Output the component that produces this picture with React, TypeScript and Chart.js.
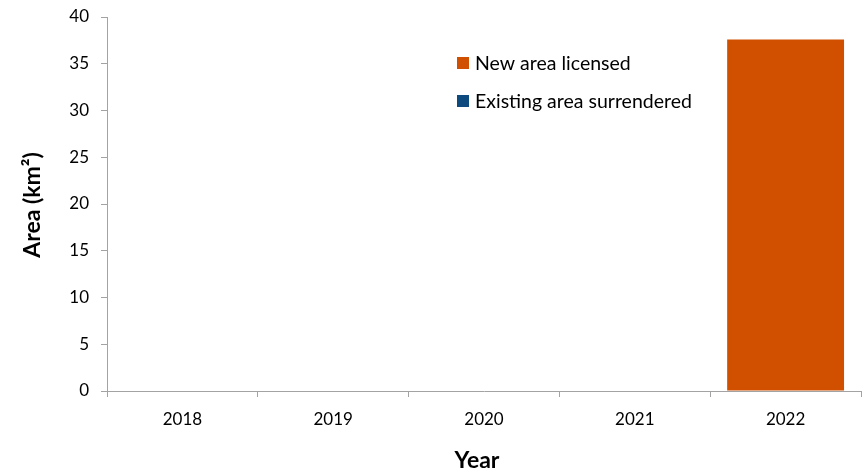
import React, { useEffect, useRef } from "react";
import { Chart, registerables } from "chart.js";

Chart.register(...registerables);

const years = ["2018", "2019", "2020", "2021", "2022"];
const newAreaLicensed = [0, 0, 0, 0, 37.6];
const existingAreaSurrendered = [0, 0, 0, 0, 0];
const yTicksMax = 40;
const yTicksStep = 5;
const xTitle = "Year";
const yTitle = "Area (km²)";

const FONT = "Lato, 'Open Sans', sans-serif";
const AXIS_COLOR = "#a3a3a3";

const overlayPlugin = {
  id: "overlayText",
  afterDraw(chart: any) {
    const ctx = chart.ctx;
    const ca = chart.chartArea;
    // legend
    const x0 = ca.left + 350;
    const y0 = ca.top + 46;
    const gap = 38;
    ctx.save();
    ctx.font = `19.5px ${FONT}`;
    ctx.textBaseline = "middle";
    ctx.textAlign = "left";
    chart.data.datasets.forEach((ds: any, i: number) => {
      const y = y0 + i * gap;
      ctx.fillStyle = ds.backgroundColor;
      ctx.fillRect(x0, y - 6, 12, 12);
      ctx.fillStyle = "#000";
      ctx.fillText(ds.label, x0 + 18, y + 1);
    });
    // axis titles
    ctx.font = `bold 23px ${FONT}`;
    ctx.textAlign = "center";
    ctx.fillStyle = "#000";
    ctx.fillText(xTitle, ca.left + 370, ca.bottom + 70);
    ctx.translate(33, (ca.top + ca.bottom) / 2 + 1);
    ctx.rotate(-Math.PI / 2);
    ctx.fillText(yTitle, 0, 0);
    ctx.restore();
  },
};

export default function App() {
  const ref = useRef<HTMLCanvasElement>(null);
  useEffect(() => {
    if (!ref.current) return;
    const chart = new Chart(ref.current, {
      type: "bar",
      data: {
        labels: years,
        datasets: [
          {
            label: "New area licensed",
            data: newAreaLicensed,
            backgroundColor: "#D05000",
            barPercentage: 0.775,
            categoryPercentage: 1,
          },
          {
            label: "Existing area surrendered",
            data: existingAreaSurrendered,
            backgroundColor: "#0E4A7E",
            barPercentage: 0.775,
            categoryPercentage: 1,
          },
        ],
      },
      options: {
        responsive: false,
        animation: false,
        grouped: false,
        layout: { padding: { top: 17, right: 5, left: 0, bottom: 0 } },
        plugins: {
          legend: { display: false },
          tooltip: { enabled: false },
        },
        scales: {
          x: {
            grid: {
              display: true,
              drawOnChartArea: false,
              drawTicks: true,
              tickLength: 6,
              color: AXIS_COLOR,
              offset: true,
            },
            border: { color: AXIS_COLOR, width: 1 },
            ticks: {
              color: "#000",
              font: { family: FONT, size: 17 },
              padding: 12,
              maxRotation: 0,
            },
            afterFit(scale: any) {
              scale.height = 80;
              scale.paddingLeft = 0;
              scale.paddingRight = 0;
            },
          },
          y: {
            min: 0,
            max: yTicksMax,
            grid: {
              display: true,
              drawOnChartArea: false,
              drawTicks: true,
              tickLength: 6,
              color: AXIS_COLOR,
            },
            border: { color: AXIS_COLOR, width: 1 },
            ticks: {
              stepSize: yTicksStep,
              color: "#000",
              font: { family: FONT, size: 17 },
              padding: 12,
            },
            afterFit(scale: any) {
              scale.width = 107;
              scale.paddingTop = 0;
              scale.paddingBottom = 0;
            },
          },
        },
      } as any,
      plugins: [overlayPlugin],
    });
    return () => chart.destroy();
  }, []);
  return (
    <div style={{ position: "fixed", left: 0, top: 0, width: 866, height: 471, background: "#fff" }}>
      <canvas ref={ref} width={866} height={471} />
    </div>
  );
}
